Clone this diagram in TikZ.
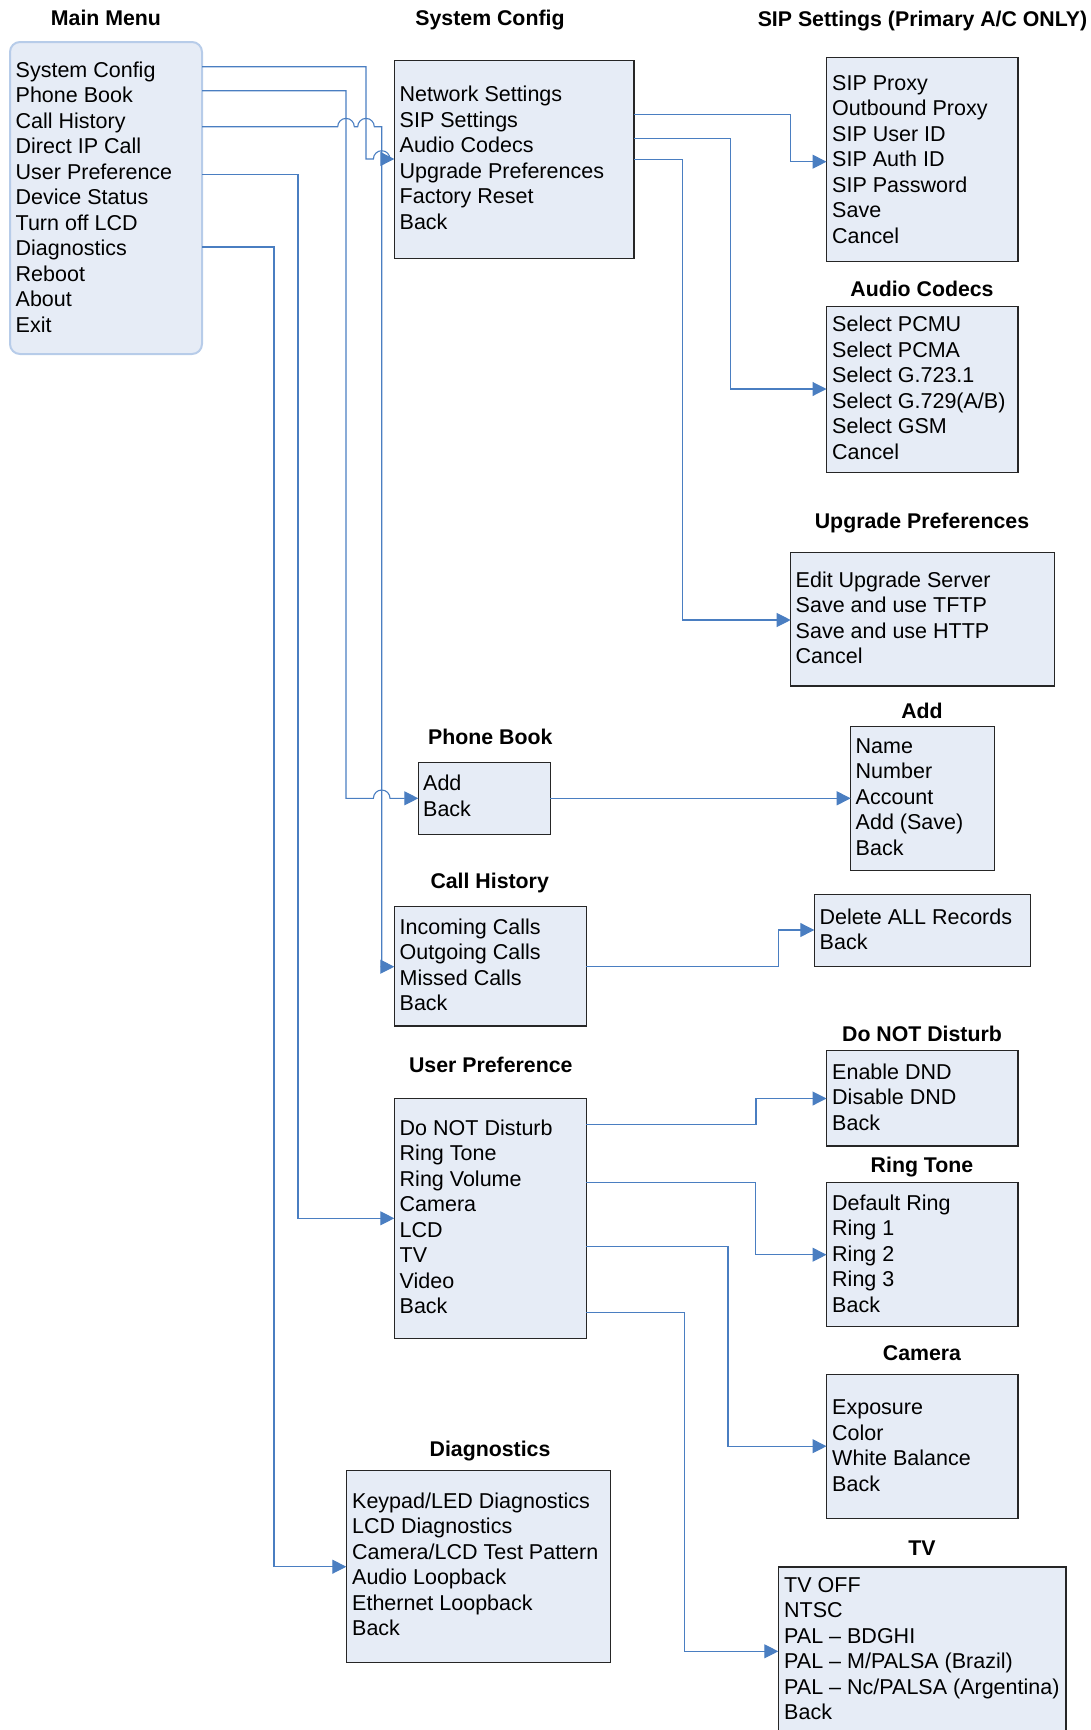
\documentclass[tikz,border=0pt]{standalone}
\usepackage{fontspec}
\setmainfont{Liberation Sans}
\usetikzlibrary{arrows.meta}
\definecolor{boxfill}{RGB}{230,236,246}
\definecolor{mmborder}{RGB}{183,204,233}
\definecolor{conncol}{RGB}{74,126,193}
\newcommand{\itemlist}[1]{\begin{tabular}[t]{@{}l@{}}#1\end{tabular}}
\begin{document}
\begin{tikzpicture}[x=1pt,y=-1pt,
  box/.style={draw=black!85, line width=1.2pt, fill=boxfill, anchor=north west, inner sep=0pt, outer sep=0pt},
  mainbox/.style={draw=mmborder, line width=2pt, fill=boxfill, rounded corners=10pt, anchor=north west, inner sep=0pt, outer sep=0pt},
  items/.style={anchor=base west, inner sep=0pt, font=\fontsize{21.5}{25.5}\selectfont},
  title/.style={anchor=base, inner sep=0pt, font=\fontsize{21.3}{25.5}\selectfont\bfseries},
  conn/.style={draw=conncol, line width=1.1pt},
  arr/.style={conn, -{Triangle[length=14pt,width=14pt]}},
  hop/.style={start angle=180, end angle=0, radius=8.3pt}
]
\useasboundingbox (0,0) rectangle (1091,1730);
\clip (0,0) rectangle (1091,1730);

% ---------- boxes ----------
\node[mainbox, minimum width=192pt, minimum height=312pt] (mm) at (10,42) {};
\node[box, minimum width=239.7pt, minimum height=197.6pt] (sc) at (394.3,60.7) {};
\node[box, minimum width=191.5pt, minimum height=204.4pt] (sip) at (826.5,57.3) {};
\node[box, minimum width=191.5pt, minimum height=165.6pt] (ac) at (826.5,306.7) {};
\node[box, minimum width=263.6pt, minimum height=133.3pt] (upg) at (790.7,552.7) {};
\node[box, minimum width=143.6pt, minimum height=143.6pt] (add) at (850.7,726.7) {};
\node[box, minimum width=132pt, minimum height=72pt] (pb) at (418.3,762.3) {};
\node[box, minimum width=216pt, minimum height=71.6pt] (del) at (814.3,894.7) {};
\node[box, minimum width=192pt, minimum height=119.3pt] (ch) at (394.3,906.7) {};
\node[box, minimum width=191.5pt, minimum height=95.7pt] (dnd) at (826.5,1050.3) {};
\node[box, minimum width=192pt, minimum height=239.6pt] (up) at (394.3,1098.7) {};
\node[box, minimum width=191.5pt, minimum height=143.9pt] (rt) at (826.5,1182.6) {};
\node[box, minimum width=191.5pt, minimum height=143.5pt] (cam) at (826.5,1374.6) {};
\node[box, minimum width=264pt, minimum height=191.6pt] (dg) at (346.3,1470.7) {};
\node[box, minimum width=287.7pt, minimum height=220pt] (tv) at (778.3,1566.9) {};

% ---------- titles ----------
\node[title] (mmT) at (106,25) {Main Menu};
\node[title] (scT) at (490,25.5) {System Config};
\node[title] (sipT) at (922.5,26.7) {SIP Settings (Primary A/C ONLY)};
\node[title] (acT) at (922,296.7) {Audio Codecs};
\node[title] (upgT) at (922,528.3) {Upgrade Preferences};
\node[title] (addT) at (922,718.3) {Add};
\node[title] (pbT) at (490.3,744) {Phone Book};
\node[title] (chT) at (489.7,888.3) {Call History};
\node[title] (dndT) at (922,1041) {Do NOT Disturb};
\node[title] (upT) at (490.8,1072.3) {User Preference};
\node[title] (rtT) at (922,1172.2) {Ring Tone};
\node[title] (camT) at (922,1360.9) {Camera};
\node[title] (dgT) at (490,1456) {Diagnostics};
\node[title] (tvT) at (922,1555.8) {TV};

% ---------- item texts ----------
\node[items] (mmL) at (15.5,77.3) {\itemlist{System Config\\Phone Book\\Call History\\Direct IP Call\\User Preference\\Device Status\\Turn off LCD\\Diagnostics\\Reboot\\About\\Exit}};
\node[items] (scL) at (399.5,101.7) {\itemlist{Network Settings\\SIP Settings\\Audio Codecs\\Upgrade Preferences\\Factory Reset\\Back}};
\node[items] (sipL) at (832,90) {\itemlist{SIP Proxy\\Outbound Proxy\\SIP User ID\\SIP Auth ID\\SIP Password\\Save\\Cancel}};
\node[items] (acL) at (832,331.7) {\itemlist{Select PCMU\\Select PCMA\\Select G.723.1\\Select G.729(A/B)\\Select GSM\\Cancel}};
\node[items] (upgL) at (795.5,587.3) {\itemlist{Edit Upgrade Server\\Save and use TFTP\\Save and use HTTP\\Cancel}};
\node[items] (addL) at (855.5,753.3) {\itemlist{Name\\Number\\Account\\Add (Save)\\Back}};
\node[items] (pbL) at (423,790.7) {\itemlist{Add\\Back}};
\node[items] (delL) at (819.5,924.3) {\itemlist{Delete ALL Records\\Back}};
\node[items] (chL) at (399.5,934) {\itemlist{Incoming Calls\\Outgoing Calls\\Missed Calls\\Back}};
\node[items] (dndL) at (832,1079) {\itemlist{Enable DND\\Disable DND\\Back}};
\node[items] (upL) at (399.5,1135.3) {\itemlist{Do NOT Disturb\\Ring Tone\\Ring Volume\\Camera\\LCD\\TV\\Video\\Back}};
\node[items] (rtL) at (832,1210.3) {\itemlist{Default Ring\\Ring 1\\Ring 2\\Ring 3\\Back}};
\node[items] (camL) at (832,1414.5) {\itemlist{Exposure\\Color\\White Balance\\Back}};
\node[items] (dgL) at (352,1508.3) {\itemlist{Keypad/LED Diagnostics\\LCD Diagnostics\\Camera/LCD Test Pattern\\Audio Loopback\\Ethernet Loopback\\Back}};
\node[items] (tvL) at (784,1592.1) {\itemlist{TV OFF\\NTSC\\PAL – BDGHI\\PAL – M/PALSA (Brazil)\\PAL – Nc/PALSA (Argentina)\\Back}};

% ---------- connectors from Main Menu ----------
\draw[conn] (mm.east |- 0,66.7) -| (366,159) -- (373.4,159) arc[hop];
\draw[arr] (390,159) -- (sc.west |- 0,159);
\draw[arr] (mm.east |- 0,90.7) -| (346,798.3) -- (373.4,798.3) arc[hop] -- (pb.west |- 0,798.3);
\draw[arr] (mm.east |- 0,126.7) -- (337.7,126.7) arc[hop] -- (357.7,126.7) arc[hop] -| (381.7,966.7) -- (ch.west |- 0,966.7);
\draw[arr] (mm.east |- 0,174.7) -| (298,1218.3) -- (up.west |- 0,1218.3);
\draw[arr] (mm.east |- 0,247) -| (274,1566.7) -- (dg.west |- 0,1566.7);

% ---------- connectors from System Config ----------
\draw[arr] (sc.east |- 0,114.3) -| (790.3,161.7) -- (sip.west |- 0,161.7);
\draw[arr] (sc.east |- 0,138.7) -| (730.7,389) -- (ac.west |- 0,389);
\draw[arr] (sc.east |- 0,159.7) -| (682.7,620) -- (upg.west |- 0,620);

% ---------- other connectors ----------
\draw[arr] (pb.east |- 0,798.3) -- (add.west |- 0,798.3);
\draw[arr] (ch.east |- 0,966.5) -| (778.3,930) -- (del.west |- 0,930);
\draw[arr] (up.east |- 0,1124.5) -| (756,1098.5) -- (dnd.west |- 0,1098.5);
\draw[arr] (up.east |- 0,1182.4) -| (755.3,1254.7) -- (rt.west |- 0,1254.7);
\draw[arr] (up.east |- 0,1246.2) -| (728,1446.2) -- (cam.west |- 0,1446.2);
\draw[arr] (up.east |- 0,1312.6) -| (684.3,1651.3) -- (tv.west |- 0,1651.3);
\end{tikzpicture}
\end{document}
